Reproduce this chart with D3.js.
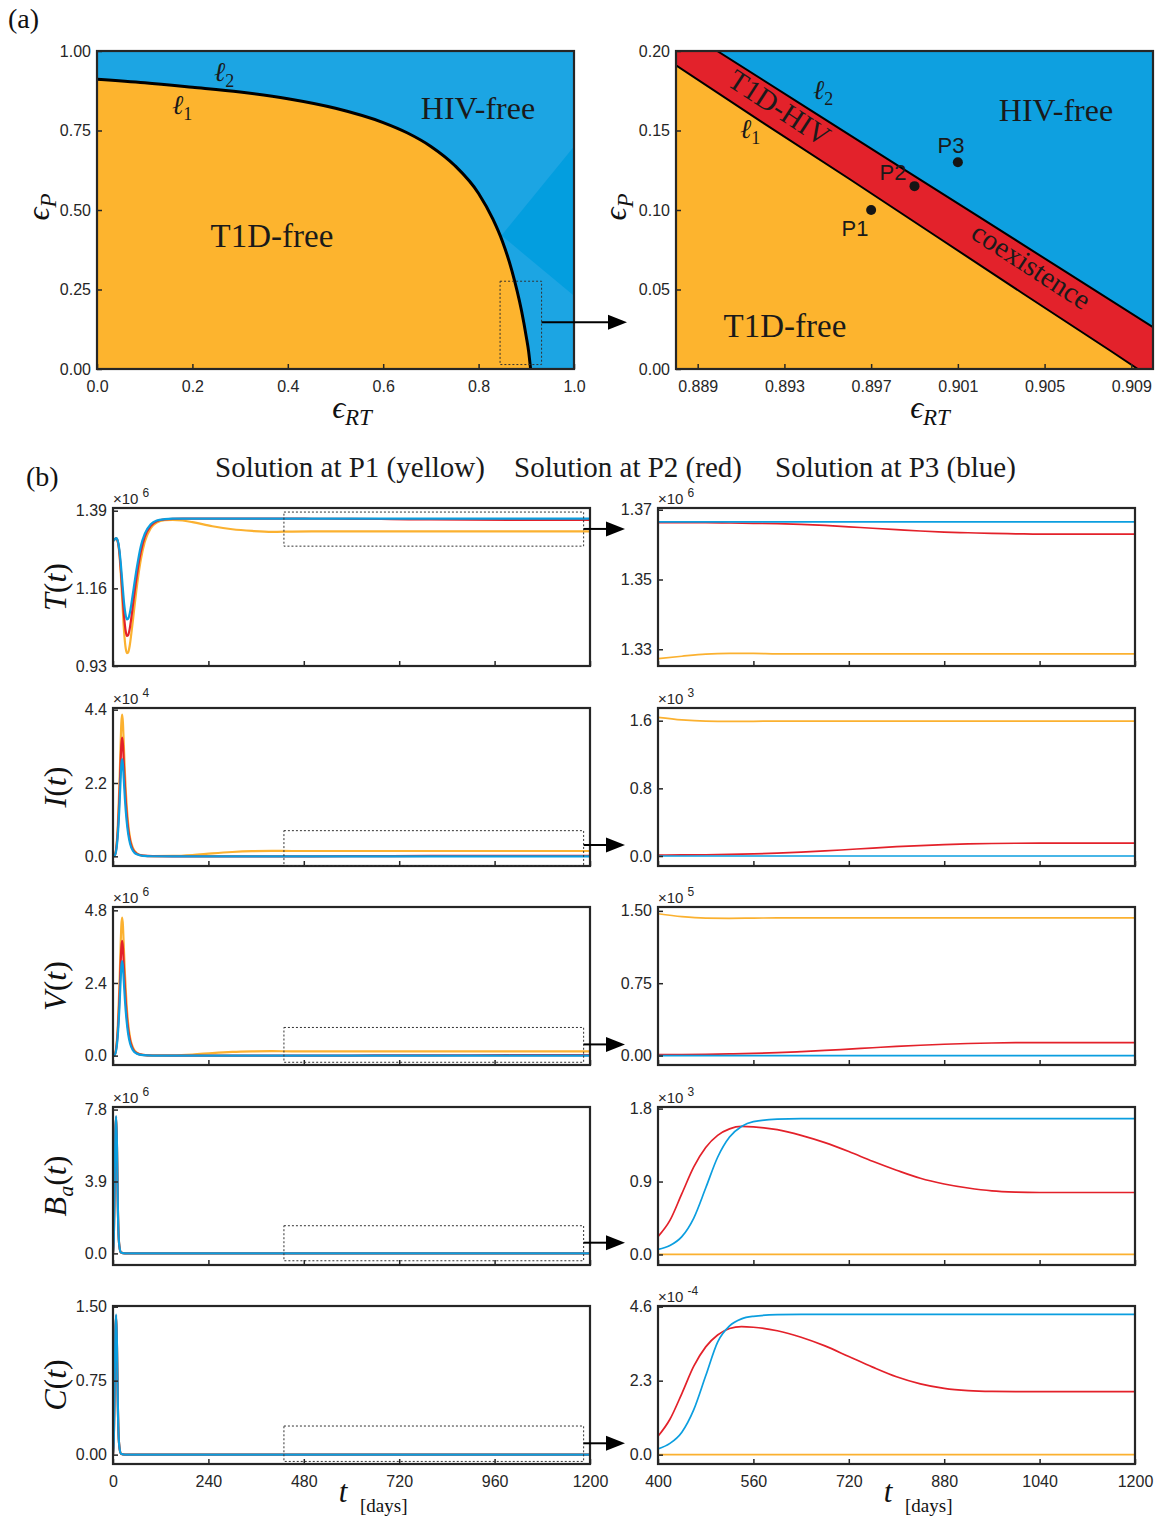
<!DOCTYPE html>
<html><head><meta charset="utf-8">
<script src="https://cdn.jsdelivr.net/npm/d3@7"></script>
<style>body{margin:0;background:#fff}svg{display:block}</style>
</head><body>
<svg id="chart" width="1165" height="1521"></svg>
<script>
// ---------------- DATA ----------------
// Panel (a): boundary curves (eps_RT, eps_P)
const fullXDomain = [0, 1];
const fullYDomain = [0, 1];
const fullXTicks = [0, 0.2, 0.4, 0.6, 0.8, 1.0];
const fullXTickLabels = ["0.0", "0.2", "0.4", "0.6", "0.8", "1.0"];
const fullYTicks = [0, 0.25, 0.5, 0.75, 1.0];
const fullYTickLabels = ["0.00", "0.25", "0.50", "0.75", "1.00"];
const l1Full = [[0,0.911],[0.1,0.900],[0.2,0.886],[0.3,0.871],[0.4,0.850],[0.5,0.820],[0.6,0.775],[0.65,0.743],[0.7,0.700],[0.75,0.640],[0.8,0.552],[0.83,0.471],[0.85,0.401],[0.87,0.308],[0.89,0.183],[0.9,0.101],[0.905,0.054],[0.909,0]];
const shadeTriangle = [[0.848,0.42],[1.0,0.70],[1.0,0.23]];
const zoomBoxX = [0.845, 0.932];
const zoomBoxY = [0.014, 0.276];

const zoomXDomain = [0.888, 0.910];
const zoomYDomain = [0, 0.2];
const zoomXTicks = [0.889, 0.893, 0.897, 0.901, 0.905, 0.909];
const zoomXTickLabels = ["0.889", "0.893", "0.897", "0.901", "0.905", "0.909"];
const zoomYTicks = [0, 0.05, 0.10, 0.15, 0.20];
const zoomYTickLabels = ["0.00", "0.05", "0.10", "0.15", "0.20"];
const l1Zoom = [[0.888,0.191],[0.892,0.155],[0.896,0.1195],[0.900,0.0835],[0.904,0.0475],[0.908,0.0118],[0.9093,0]];
const l2Zoom = [[0.8899,0.200],[0.894,0.1646],[0.898,0.130],[0.902,0.0955],[0.906,0.0609],[0.910,0.0263]];
const pointNames = ["P1", "P2", "P3"];
const pointX = [0.897, 0.899, 0.901];
const pointY = [0.100, 0.115, 0.130];

// Panel (b): time series
const tLeftT = [0,4,8,12,16,20,24,28,32,35,38,42,46,52,60,70,80,95,110,130,150,175,200,250,300,350,400,450,500,600,700,800,900,1000,1200];
const TYellowL = [1.300,1.305,1.308,1.298,1.262,1.195,1.110,1.030,0.982,0.968,0.970,0.990,1.025,1.085,1.165,1.245,1.298,1.338,1.355,1.362,1.363,1.361,1.356,1.344,1.335,1.330,1.3273,1.3283,1.3288,1.3287,1.3287,1.3287,1.3287,1.3287,1.3287];
const TRedL = [1.300,1.305,1.308,1.299,1.268,1.210,1.140,1.075,1.033,1.019,1.021,1.040,1.072,1.128,1.198,1.268,1.313,1.345,1.359,1.364,1.3660,1.3663,1.3663,1.3663,1.3663,1.3663,1.3663,1.3663,1.3662,1.3660,1.3651,1.3640,1.3633,1.3630,1.3630];
const TBlueL = [1.300,1.305,1.309,1.301,1.275,1.228,1.170,1.115,1.080,1.068,1.070,1.085,1.112,1.160,1.222,1.285,1.322,1.350,1.361,1.365,1.3665,1.3665,1.3665,1.3665,1.3665,1.3665,1.3665,1.3665,1.3665,1.3665,1.3665,1.3665,1.3665,1.3665,1.3665];

const tLeftI = [0,4,8,12,16,19,21,23,25,27,30,34,38,43,50,60,75,100,150,200,250,300,350,400,450,500,600,700,800,900,1000,1200];
const IYellowL = [0,0.03,0.25,0.9,2.1,3.3,4.0,4.25,4.0,3.4,2.5,1.6,1.0,0.55,0.25,0.09,0.025,0.008,0.012,0.04,0.09,0.13,0.155,0.164,0.160,0.1595,0.1595,0.1595,0.1595,0.1595,0.1595,0.1595];
const IRedL = [0,0.025,0.21,0.75,1.76,2.77,3.35,3.56,3.35,2.85,2.1,1.34,0.84,0.46,0.21,0.075,0.02,0.004,0.001,0.001,0.001,0.001,0.0012,0.0012,0.0013,0.0015,0.0034,0.0077,0.011,0.0135,0.0150,0.0153];
const IBlueL = [0,0.02,0.17,0.62,1.44,2.27,2.75,2.92,2.75,2.34,1.72,1.1,0.69,0.38,0.17,0.06,0.015,0.002,0,0,0,0,0,0,0,0,0,0,0,0,0,0];
const VYellowL = [0,0.03,0.27,0.97,2.25,3.55,4.3,4.56,4.3,3.65,2.7,1.72,1.07,0.59,0.27,0.1,0.027,0.009,0.012,0.037,0.085,0.122,0.140,0.147,0.143,0.1425,0.1428,0.1428,0.1428,0.1428,0.1428,0.1428];
const VRedL = [0,0.025,0.22,0.8,1.87,2.95,3.57,3.79,3.57,3.03,2.24,1.43,0.89,0.49,0.22,0.08,0.022,0.004,0.001,0.001,0.001,0.001,0.001,0.001,0.0012,0.0015,0.003,0.0067,0.0095,0.0117,0.0130,0.0135];
const VBlueL = [0,0.02,0.18,0.66,1.54,2.43,2.94,3.12,2.94,2.5,1.85,1.18,0.73,0.4,0.18,0.065,0.017,0.002,0,0,0,0,0,0,0,0,0,0,0,0,0,0];

const tLeftS = [0,2,4,6,8,10,12,14,17,20,30,50,100,200,400,600,800,1000,1200];
const BaYellowL = [0,0.8,3.5,6.5,7.35,5.7,2.8,1.0,0.25,0.05,0.005,0.0005,0,0,0,0,0,0,0];
const BaRedL = [0,0.8,3.5,6.6,7.4,5.8,2.8,1.0,0.25,0.05,0.005,0.0005,0,0,0.0002,0.0015,0.0011,0.0008,0.0008];
const BaBlueL = [0,0.8,3.5,6.6,7.44,5.8,2.8,1.0,0.25,0.05,0.005,0.0005,0,0,0.0001,0.0017,0.0017,0.0017,0.0017];
const CYellowL = [0,0.15,0.64,1.23,1.40,1.08,0.54,0.2,0.05,0.01,0.001,0,0,0,0,0,0,0,0];
const CRedL = [0,0.15,0.65,1.24,1.41,1.1,0.55,0.2,0.05,0.01,0.001,0,0,0,0.00006,0.00038,0.00024,0.0002,0.0002];
const CBlueL = [0,0.15,0.65,1.25,1.42,1.1,0.55,0.2,0.05,0.01,0.001,0,0,0,0.00002,0.00004,0.00004,0.00004,0.00004];

const tRight = [400,440,480,520,560,600,640,680,720,760,800,840,880,920,960,1000,1040,1100,1200];
const TYellowR = [1.3273,1.3280,1.3286,1.3288,1.3288,1.3287,1.3287,1.3287,1.3287,1.3287,1.3287,1.3287,1.3287,1.3287,1.3287,1.3287,1.3287,1.3287,1.3287];
const TRedR = [1.3663,1.3663,1.3663,1.3662,1.3661,1.3660,1.3658,1.3655,1.3651,1.3647,1.3643,1.3639,1.3636,1.3634,1.3632,1.3631,1.3630,1.3630,1.3630];
const TBlueR = [1.3665,1.3665,1.3665,1.3665,1.3665,1.3665,1.3665,1.3665,1.3665,1.3665,1.3665,1.3665,1.3665,1.3665,1.3665,1.3665,1.3665,1.3665,1.3665];
const IYellowR = [1.64,1.61,1.595,1.592,1.593,1.595,1.595,1.595,1.595,1.595,1.595,1.595,1.595,1.595,1.595,1.595,1.595,1.595,1.595];
const IRedR = [0.012,0.013,0.015,0.019,0.025,0.034,0.046,0.060,0.077,0.094,0.110,0.124,0.135,0.143,0.148,0.151,0.152,0.153,0.153];
const IBlueR = [0,0,0,0,0,0,0,0,0,0,0,0,0,0,0,0,0,0,0];
const VYellowR = [1.47,1.44,1.425,1.423,1.425,1.427,1.428,1.428,1.428,1.428,1.428,1.428,1.428,1.428,1.428,1.428,1.428,1.428,1.428];
const VRedR = [0.010,0.011,0.013,0.017,0.022,0.030,0.041,0.053,0.067,0.081,0.095,0.107,0.117,0.125,0.130,0.133,0.134,0.135,0.135];
const VBlueR = [0,0,0,0,0,0,0,0,0,0,0,0,0,0,0,0,0,0,0];

const tRight2 = [400,420,440,460,480,500,520,540,560,600,640,680,720,760,800,840,880,920,960,1000,1040,1100,1200];
const BaYellowR = [0,0,0,0,0,0,0,0,0,0,0,0,0,0,0,0,0,0,0,0,0,0,0];
const BaRedR = [0.22,0.42,0.75,1.08,1.32,1.47,1.55,1.58,1.575,1.54,1.47,1.38,1.27,1.15,1.04,0.94,0.87,0.82,0.785,0.77,0.765,0.765,0.765];
const BaBlueR = [0.062,0.11,0.22,0.45,0.82,1.20,1.45,1.58,1.64,1.67,1.677,1.677,1.677,1.677,1.677,1.677,1.677,1.677,1.677,1.677,1.677,1.677,1.677];
const CYellowR = [0,0,0,0,0,0,0,0,0,0,0,0,0,0,0,0,0,0,0,0,0,0,0];
const CRedR = [0.57,1.10,1.90,2.75,3.35,3.72,3.92,3.98,3.96,3.85,3.65,3.38,3.05,2.72,2.42,2.20,2.06,1.99,1.965,1.96,1.96,1.96,1.96];
const CBlueR = [0.18,0.35,0.70,1.40,2.45,3.50,4.00,4.22,4.30,4.35,4.36,4.36,4.36,4.36,4.36,4.36,4.36,4.36,4.36,4.36,4.36,4.36,4.36];

const leftXTicks = [0, 240, 480, 720, 960, 1200];
const rightXTicks = [400, 560, 720, 880, 1040, 1200];
const headerTexts = ["Solution at P1 (yellow)", "Solution at P2 (red)", "Solution at P3 (blue)"];

// ---------------- STYLE ----------------
const INK = "#262626";
const SANS = "'Liberation Sans', Arial, Helvetica, sans-serif";
const SERIF = "'Liberation Serif', 'Times New Roman', 'DejaVu Serif', serif";
const COL = {yellow: "#FBB130", red: "#E3212A", blue: "#0B9EDF"};
const FILL = {yellow: "#FDB42E", red: "#E3222B", blue: "#0EA0E0", blueLight: "#1CA5E3", blueDark: "#039EDF"};

const svg = d3.select("#chart");
const defs = svg.append("defs");
let clipN = 0;
function clip(x, y, w, h) {
  const id = "clip" + (clipN++);
  defs.append("clipPath").attr("id", id).append("rect").attr("x", x).attr("y", y).attr("width", w).attr("height", h);
  return "url(#" + id + ")";
}
function styleAxis(g, size) {
  g.attr("font-family", SANS).attr("font-size", size || 16);
  g.selectAll("text").attr("fill", INK);
  g.selectAll("line").attr("stroke", INK).attr("stroke-width", 1.5);
  g.select(".domain").remove();
}
function arrow(x0, x1, y) {
  svg.append("line").attr("x1", x0).attr("x2", x1 - 16).attr("y1", y).attr("y2", y)
    .attr("stroke", "#000").attr("stroke-width", 2);
  svg.append("path").attr("d", `M${x1},${y} L${x1 - 19},${y - 7.5} L${x1 - 19},${y + 7.5} Z`).attr("fill", "#000");
}
function mathText(x, y, parts, size, rotate) {
  const t = svg.append("text").attr("font-family", SERIF).attr("font-size", size).attr("fill", "#111")
    .attr("text-anchor", "middle")
    .attr("transform", `translate(${x},${y})` + (rotate ? " rotate(-90)" : ""));
  parts.forEach(p => {
    const s = t.append("tspan").text(p.t);
    if (p.i) s.attr("font-style", "italic");
    if (p.s) s.attr("font-size", p.s);
    if (p.dy) s.attr("dy", p.dy);
    if (p.dx) s.attr("dx", p.dx);
  });
  return t;
}

// ---------------- PANEL (a) ----------------
svg.append("text").attr("x", 8).attr("y", 28).attr("font-family", SERIF).attr("font-size", 28).attr("fill", "#111").text("(a)");

function phaseAxes(xs, ys, xt, xl, yt, yl) {
  const [X0, X1] = xs.range(), [Y0, Y1] = ys.range();
  const gx = svg.append("g").attr("transform", `translate(0,${Y0})`)
    .call(d3.axisBottom(xs).tickValues(xt).tickFormat((d, i) => xl[i]).tickSize(-5).tickPadding(12));
  styleAxis(gx);
  const gy = svg.append("g").attr("transform", `translate(${X0},0)`)
    .call(d3.axisLeft(ys).tickValues(yt).tickFormat((d, i) => yl[i]).tickSize(-5).tickPadding(6));
  styleAxis(gy);
  svg.append("rect").attr("x", X0).attr("y", Y1).attr("width", X1 - X0).attr("height", Y0 - Y1)
    .attr("fill", "none").attr("stroke", INK).attr("stroke-width", 2.2);
}

// left full panel
const xA = d3.scaleLinear().domain(fullXDomain).range([97, 574]);
const yA = d3.scaleLinear().domain(fullYDomain).range([369, 51]);
{
  const g = svg.append("g").attr("clip-path", clip(97, 51, 477, 318));
  g.append("rect").attr("x", 97).attr("y", 51).attr("width", 477).attr("height", 318).attr("fill", FILL.blueLight);
  g.append("path").attr("fill", FILL.blueDark)
    .attr("d", d3.line().x(d => xA(d[0])).y(d => yA(d[1]))(shadeTriangle) + "Z");
  g.append("path").datum(l1Full).attr("fill", FILL.yellow)
    .attr("d", d3.area().x(d => xA(d[0])).y0(yA(0)).y1(d => yA(d[1])).curve(d3.curveMonotoneX));
  g.append("path").datum(l1Full).attr("fill", "none").attr("stroke", "#000").attr("stroke-width", 3)
    .attr("d", d3.line().x(d => xA(d[0])).y(d => yA(d[1])).curve(d3.curveMonotoneX));
  g.append("rect").attr("x", xA(zoomBoxX[0])).attr("y", yA(zoomBoxY[1]))
    .attr("width", xA(zoomBoxX[1]) - xA(zoomBoxX[0])).attr("height", yA(zoomBoxY[0]) - yA(zoomBoxY[1]))
    .attr("fill", "none").attr("stroke", "#333").attr("stroke-width", 1).attr("stroke-dasharray", "2,2");
}
phaseAxes(xA, yA, fullXTicks, fullXTickLabels, fullYTicks, fullYTickLabels);
arrow(xA(zoomBoxX[1]), 627, yA(0.147));

// right zoom panel
const xZ = d3.scaleLinear().domain(zoomXDomain).range([676, 1153]);
const yZ = d3.scaleLinear().domain(zoomYDomain).range([369, 51]);
{
  const g = svg.append("g").attr("clip-path", clip(676, 51, 477, 318));
  g.append("rect").attr("x", 676).attr("y", 51).attr("width", 477).attr("height", 318).attr("fill", FILL.blue);
  const line = d3.line().x(d => xZ(d[0])).y(d => yZ(d[1]));
  const l2Poly = [[zoomXDomain[0], zoomYDomain[1]]].concat(l2Zoom, [[zoomXDomain[1], 0], [zoomXDomain[0], 0]]);
  g.append("path").attr("fill", FILL.red).attr("d", line(l2Poly) + "Z");
  const l1Poly = l1Zoom.concat([[zoomXDomain[0], 0]]);
  g.append("path").attr("fill", FILL.yellow).attr("d", line(l1Poly) + "Z");
  g.append("path").datum(l2Zoom).attr("fill", "none").attr("stroke", "#000").attr("stroke-width", 2).attr("d", line);
  g.append("path").datum(l1Zoom).attr("fill", "none").attr("stroke", "#000").attr("stroke-width", 2).attr("d", line);
  g.selectAll("circle.pt").data(pointX).join("circle").attr("class", "pt")
    .attr("cx", d => xZ(d)).attr("cy", (d, i) => yZ(pointY[i])).attr("r", 5).attr("fill", "#151515");
}
phaseAxes(xZ, yZ, zoomXTicks, zoomXTickLabels, zoomYTicks, zoomYTickLabels);

// labels panel (a)
function serifLabel(x, y, txt, size, anchor) {
  return svg.append("text").attr("x", x).attr("y", y).attr("font-family", SERIF).attr("font-size", size)
    .attr("fill", "#1a1a1a").attr("text-anchor", anchor || "middle").text(txt);
}
serifLabel(478, 119, "HIV-free", 32);
serifLabel(272, 247, "T1D-free", 33);
serifLabel(1056, 121, "HIV-free", 32);
serifLabel(785, 337, "T1D-free", 33);
svg.append("text").attr("transform", "translate(774,116) rotate(33)").attr("font-family", SERIF).attr("font-size", 29)
  .attr("fill", "#1a1a1a").attr("text-anchor", "middle").text("T1D-HIV");
svg.append("text").attr("transform", "translate(1026,274) rotate(33)").attr("font-family", SERIF).attr("font-size", 29)
  .attr("fill", "#1a1a1a").attr("text-anchor", "middle").text("coexistence");
const pLabelPos = [[855, 236], [893, 180], [951, 153]];
pointNames.forEach((n, i) => {
  svg.append("text").attr("x", pLabelPos[i][0]).attr("y", pLabelPos[i][1]).attr("font-family", SANS).attr("font-size", 22)
    .attr("fill", "#1a1a1a").attr("text-anchor", "middle").text(n);
});
function ell(x, y, sub) {
  const t = svg.append("text").attr("x", x).attr("y", y).attr("font-family", SERIF).attr("font-size", 27).attr("fill", "#1a1a1a");
  t.append("tspan").attr("font-style", "italic").text("ℓ");
  t.append("tspan").attr("font-size", 18).attr("dy", 6).text(sub);
}
ell(214, 81, "2"); ell(172, 114, "1");
ell(813, 99, "2"); ell(740, 138, "1");

// axis titles (a)
mathText(352, 418, [{t: "ϵ", i: true}, {t: "RT", i: true, s: 23, dy: 7}], 32);
mathText(930, 418, [{t: "ϵ", i: true}, {t: "RT", i: true, s: 23, dy: 7}], 32);
mathText(49, 207, [{t: "ϵ", i: true}, {t: "P", i: true, s: 23, dy: 7}], 32, true);
mathText(626, 207, [{t: "ϵ", i: true}, {t: "P", i: true, s: 23, dy: 7}], 32, true);

// ---------------- PANEL (b) ----------------
svg.append("text").attr("x", 26).attr("y", 486).attr("font-family", SERIF).attr("font-size", 28).attr("fill", "#111").text("(b)");
const headerX = [215, 514, 775];
headerTexts.forEach((t, i) => {
  svg.append("text").attr("x", headerX[i]).attr("y", 477).attr("font-family", SERIF).attr("font-size", 29)
    .attr("fill", "#1a1a1a").text(t);
});

const rowTops = [508, 708, 907, 1107, 1306];
const ROWH = 158;
const LX = [113, 590], RX = [658, 1135];

const rows = [
  {title: [{t: "T", i: true}, {t: "("}, {t: "t", i: true}, {t: ")"}],
   L: {dom: [0.93, 1.398], ticks: [0.93, 1.16, 1.39], labels: ["0.93", "1.16", "1.39"], mult: "6",
       t: tLeftT, y: TYellowL, r: TRedL, b: TBlueL, box: [1.285, 1.386], arrowY: 1.336},
   R: {dom: [1.3252, 1.3705], ticks: [1.33, 1.35, 1.37], labels: ["1.33", "1.35", "1.37"], mult: "6",
       t: tRight, y: TYellowR, r: TRedR, b: TBlueR}},
  {title: [{t: "I", i: true}, {t: "("}, {t: "t", i: true}, {t: ")"}],
   L: {dom: [-0.29, 4.45], ticks: [0, 2.2, 4.4], labels: ["0.0", "2.2", "4.4"], mult: "4",
       t: tLeftI, y: IYellowL, r: IRedL, b: IBlueL, box: [-0.28, 0.77], arrowY: 0.34},
   R: {dom: [-0.118, 1.75], ticks: [0, 0.8, 1.6], labels: ["0.0", "0.8", "1.6"], mult: "3",
       t: tRight, y: IYellowR, r: IRedR, b: IBlueR}},
  {title: [{t: "V", i: true}, {t: "("}, {t: "t", i: true}, {t: ")"}],
   L: {dom: [-0.31, 4.91], ticks: [0, 2.4, 4.8], labels: ["0.0", "2.4", "4.8"], mult: "6",
       t: tLeftI, y: VYellowL, r: VRedL, b: VBlueL, box: [-0.22, 0.93], arrowY: 0.37},
   R: {dom: [-0.098, 1.54], ticks: [0, 0.75, 1.5], labels: ["0.00", "0.75", "1.50"], mult: "5",
       t: tRight, y: VYellowR, r: VRedR, b: VBlueR}},
  {title: [{t: "B", i: true}, {t: "a", i: true, s: 22, dy: 7}, {t: "(", dy: -7}, {t: "t", i: true}, {t: ")"}],
   L: {dom: [-0.63, 7.94], ticks: [0, 3.9, 7.8], labels: ["0.0", "3.9", "7.8"], mult: "6",
       t: tLeftS, y: BaYellowL, r: BaRedL, b: BaBlueL, box: [-0.4, 1.5], arrowY: 0.58},
   R: {dom: [-0.13, 1.82], ticks: [0, 0.9, 1.8], labels: ["0.0", "0.9", "1.8"], mult: "3",
       t: tRight2, y: BaYellowR, r: BaRedR, b: BaBlueR}},
  {title: [{t: "C", i: true}, {t: "("}, {t: "t", i: true}, {t: ")"}],
   L: {dom: [-0.095, 1.507], ticks: [0, 0.75, 1.5], labels: ["0.00", "0.75", "1.50"], mult: null,
       t: tLeftS, y: CYellowL, r: CRedL, b: CBlueL, box: [-0.069, 0.29], arrowY: 0.115},
   R: {dom: [-0.29, 4.62], ticks: [0, 2.3, 4.6], labels: ["0.0", "2.3", "4.6"], mult: "-4",
       t: tRight2, y: CYellowR, r: CRedR, b: CBlueR}}
];

function tsPanel(xr, xDom, xTicks, top, cfg, showX, lw) {
  const x = d3.scaleLinear().domain(xDom).range(xr);
  const y = d3.scaleLinear().domain(cfg.dom).range([top + ROWH, top]);
  const g = svg.append("g").attr("clip-path", clip(xr[0], top, xr[1] - xr[0], ROWH));
  const line = d3.line().x(d => x(d[0])).y(d => y(d[1])).curve(d3.curveMonotoneX);
  [["y", COL.yellow], ["r", COL.red], ["b", COL.blue]].forEach(([k, c]) => {
    g.append("path").datum(cfg.t.map((t, i) => [t, cfg[k][i]])).attr("fill", "none")
      .attr("stroke", c).attr("stroke-width", lw).attr("stroke-linejoin", "round").attr("d", line);
  });
  const gx = svg.append("g").attr("transform", `translate(0,${top + ROWH})`)
    .call(d3.axisBottom(x).tickValues(xTicks).tickFormat(showX ? d3.format("d") : () => "").tickSize(-5).tickPadding(12));
  styleAxis(gx);
  const gy = svg.append("g").attr("transform", `translate(${xr[0]},0)`)
    .call(d3.axisLeft(y).tickValues(cfg.ticks).tickFormat((d, i) => cfg.labels[i]).tickSize(-5).tickPadding(6));
  styleAxis(gy);
  svg.append("rect").attr("x", xr[0]).attr("y", top).attr("width", xr[1] - xr[0]).attr("height", ROWH)
    .attr("fill", "none").attr("stroke", INK).attr("stroke-width", 2.2);
  if (cfg.mult) {
    const t = svg.append("text").attr("x", xr[0]).attr("y", top - 4).attr("font-family", SANS).attr("font-size", 15).attr("fill", INK);
    t.append("tspan").text("×10");
    t.append("tspan").attr("font-size", 12).attr("dx", 4).attr("dy", -7).text(cfg.mult);
  }
  if (cfg.box) {
    svg.append("rect").attr("x", x(430)).attr("y", y(cfg.box[1])).attr("width", x(1184) - x(430))
      .attr("height", y(cfg.box[0]) - y(cfg.box[1])).attr("fill", "none").attr("stroke", "#333")
      .attr("stroke-width", 1).attr("stroke-dasharray", "2,2");
    arrow(x(1184), 625, y(cfg.arrowY));
  }
}

rows.forEach((row, i) => {
  const top = rowTops[i];
  const last = i === rows.length - 1;
  tsPanel(LX, [0, 1200], leftXTicks, top, row.L, last, 2.2);
  tsPanel(RX, [400, 1200], rightXTicks, top, row.R, last, 1.7);
  mathText(66, top + ROWH / 2, row.title, 32, true);
});

// time axis titles
[[343, 360], [888, 905]].forEach(([cx, dx]) => {
  svg.append("text").attr("x", cx).attr("y", 1502).attr("font-family", SERIF).attr("font-size", 31)
    .attr("font-style", "italic").attr("fill", "#111").attr("text-anchor", "middle").text("t");
  svg.append("text").attr("x", dx).attr("y", 1512).attr("font-family", SERIF).attr("font-size", 19)
    .attr("fill", "#111").text("[days]");
});
</script>
</body></html>
